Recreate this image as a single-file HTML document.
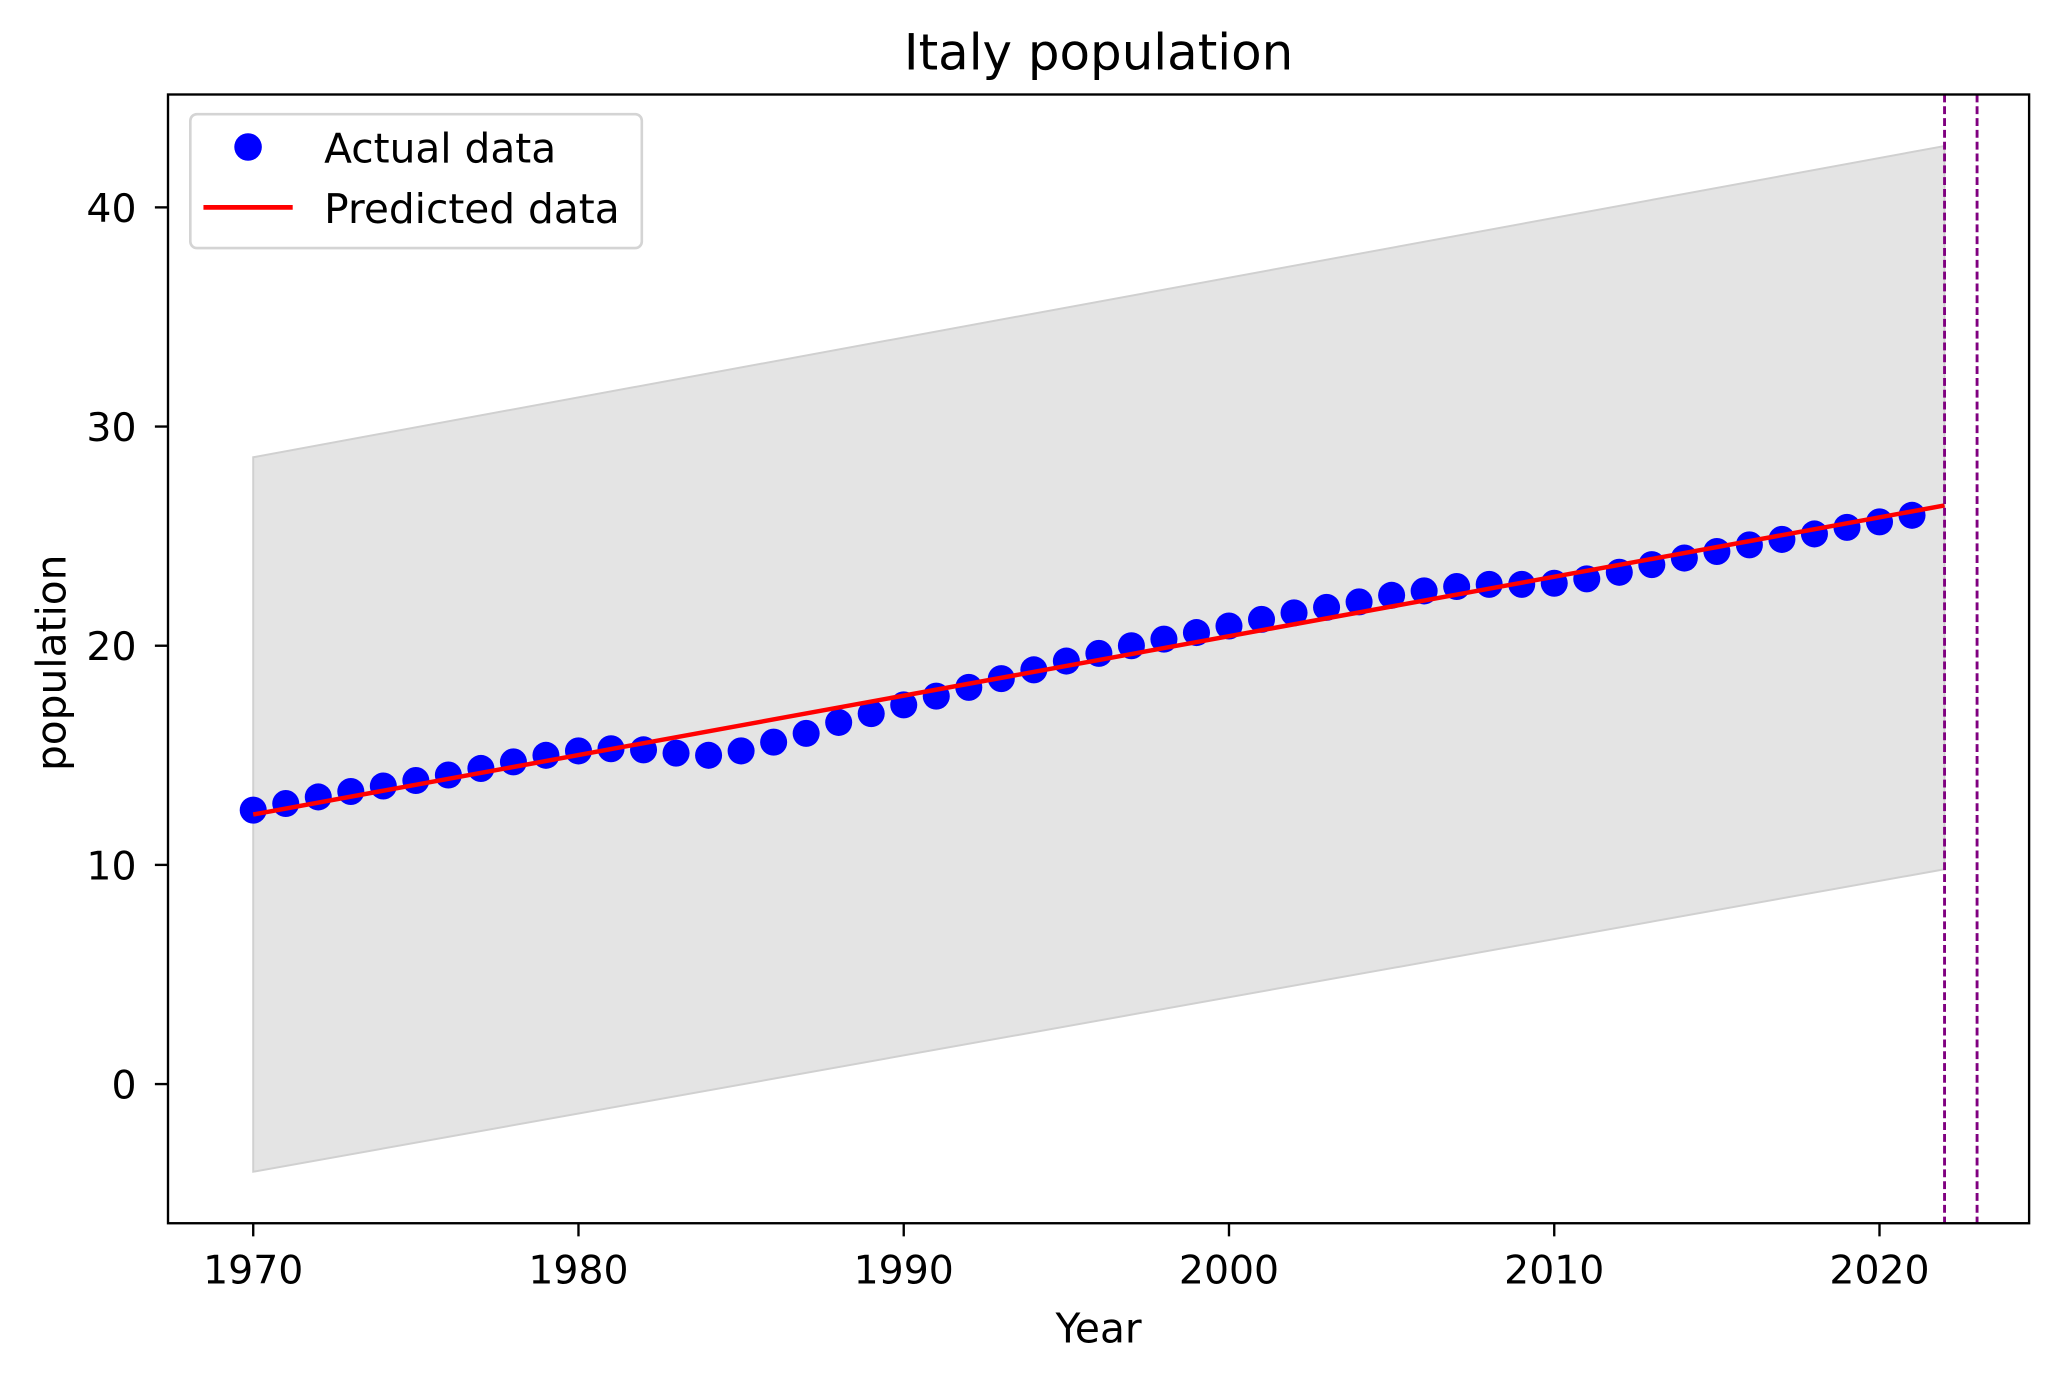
<!DOCTYPE html>
<html><head><meta charset="utf-8"><style>
body{margin:0;background:#fff;}
svg text{font-family:"DejaVu Sans","Liberation Sans",sans-serif;fill:#000;}
</style></head><body>
<svg id="chart" width="2058" height="1381" viewBox="0 0 1568 1052.2" xmlns="http://www.w3.org/2000/svg"></svg>
<script>
const years=[1970,1971,1972,1973,1974,1975,1976,1977,1978,1979,1980,1981,1982,1983,1984,1985,1986,1987,1988,1989,1990,1991,1992,1993,1994,1995,1996,1997,1998,1999,2000,2001,2002,2003,2004,2005,2006,2007,2008,2009,2010,2011,2012,2013,2014,2015,2016,2017,2018,2019,2020,2021];
const actual=[12.5,12.8,13.1,13.35,13.6,13.85,14.1,14.4,14.7,15.0,15.2,15.3,15.25,15.1,15.0,15.2,15.6,16.0,16.5,16.9,17.3,17.7,18.1,18.5,18.9,19.3,19.65,20.0,20.3,20.6,20.9,21.2,21.5,21.75,22.0,22.3,22.5,22.7,22.8,22.8,22.85,23.05,23.35,23.7,24.0,24.3,24.6,24.85,25.1,25.4,25.65,25.95];
const predYears=[1970,2022];
const predicted=[12.3,26.4];
const upperBand=[28.6,42.8];
const lowerBand=[-4.0,9.8];
const vlines=[2022,2023];
const xTicks=[1970,1980,1990,2000,2010,2020];
const yTicks=[0,10,20,30,40];
const L=128,R=1546,T=72,B=932;
const xMin=1967.38,xMax=2024.6,yMin=-6.35,yMax=45.15;
const X=v=>L+(v-xMin)/(xMax-xMin)*(R-L);
const Y=v=>B-(v-yMin)/(yMax-yMin)*(B-T);
const svg=document.getElementById('chart');
const NS='http://www.w3.org/2000/svg';
function mk(tag,attrs,parent){const e=document.createElementNS(NS,tag);for(const k in attrs)e.setAttribute(k,attrs[k]);(parent||svg).appendChild(e);return e;}
let e;
e=mk('polygon',{points:`${X(predYears[0])},${Y(upperBand[0])} ${X(predYears[1])},${Y(upperBand[1])} ${X(predYears[1])},${Y(lowerBand[1])} ${X(predYears[0])},${Y(lowerBand[0])}`,fill:'#e4e4e4',stroke:'#d0d0d0','stroke-width':1.5});


actual.forEach((v,i)=>{
 const c=mk('circle',{cx:X(years[i]),cy:Y(v),r:10.3,fill:'#0000ff'});
 
 
});
e=mk('line',{x1:X(predYears[0]),y1:Y(predicted[0]),x2:X(predYears[1]),y2:Y(predicted[1]),stroke:'#ff0000','stroke-width':3.4});


vlines.forEach(v=>{
 const l=mk('line',{x1:X(v),y1:T,x2:X(v),y2:B,stroke:'#800080','stroke-width':2.2,'stroke-dasharray':'6,3'});
 
 
});
e=mk('rect',{x:L,y:T,width:R-L,height:B-T,fill:'none',stroke:'#000','stroke-width':1.8});


xTicks.forEach(t=>{
 mk('line',{x1:X(t),y1:B,x2:X(t),y2:B+10,stroke:'#000','stroke-width':1.8});
 const tx=mk('text',{x:X(t),y:B+46,'text-anchor':'middle','font-size':30});
 tx.textContent=t;
 
 
});
yTicks.forEach(t=>{
 mk('line',{x1:L-10,y1:Y(t),x2:L,y2:Y(t),stroke:'#000','stroke-width':1.8});
 const tx=mk('text',{x:L-24,y:Y(t)+11,'text-anchor':'end','font-size':30});
 tx.textContent=t;
 
 
});
e=mk('text',{x:(L+R)/2,y:53,'text-anchor':'middle','font-size':38});
e.textContent='Italy population';


e=mk('text',{x:(L+R)/2,y:1023,'text-anchor':'middle','font-size':31});
e.textContent='Year';


e=mk('text',{x:50,y:505,'text-anchor':'middle','font-size':31,transform:'rotate(-90 50 505)'});
e.textContent='population';


const lg=mk('g',{});


mk('rect',{x:145,y:87,width:344,height:102,rx:5,fill:'#fff','fill-opacity':0.8,stroke:'#d4d4d4','stroke-width':2},lg);
mk('circle',{cx:189,cy:112,r:10.5,fill:'#0000ff'},lg);
e=mk('text',{x:247,y:124,'font-size':31},lg);e.textContent='Actual data';


mk('line',{x1:155,y1:158,x2:223,y2:158,stroke:'#ff0000','stroke-width':3.6},lg);
e=mk('text',{x:247,y:170,'font-size':31},lg);e.textContent='Predicted data';


</script>
</body></html>
